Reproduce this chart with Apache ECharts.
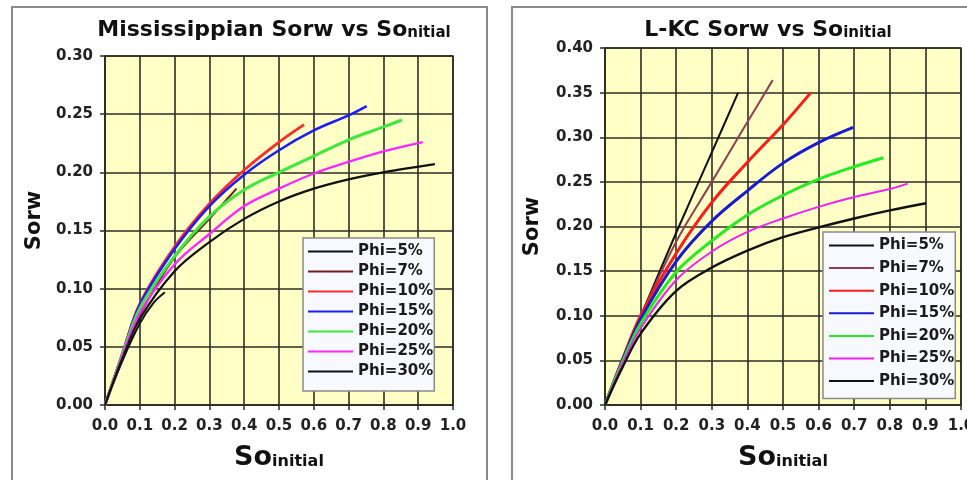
<!DOCTYPE html>
<html>
<head>
<meta charset="utf-8">
<script src="https://cdn.jsdelivr.net/npm/echarts@6/dist/echarts.min.js"></script>
<style>html,body{margin:0;padding:0;background:#fff}#c{width:967px;height:480px}</style>
</head>
<body>
<div id="c"></div>
<script>
// ---- Data (So_initial, Sorw) ----
const phiNames = ['Phi=5%', 'Phi=7%', 'Phi=10%', 'Phi=15%', 'Phi=20%', 'Phi=25%', 'Phi=30%'];
const xTicks = [0, 0.1, 0.2, 0.3, 0.4, 0.5, 0.6, 0.7, 0.8, 0.9, 1.0];
const missYTicks = [0, 0.05, 0.10, 0.15, 0.20, 0.25, 0.30];
const lkcYTicks = [0, 0.05, 0.10, 0.15, 0.20, 0.25, 0.30, 0.35, 0.40];

// Mississippian
const miss5  = [[0,0],[0.05,0.038],[0.1,0.07],[0.14,0.088],[0.172,0.097]];
const miss7  = [[0,0],[0.05,0.04],[0.1,0.077],[0.2,0.127],[0.3,0.16],[0.378,0.186]];
const miss10 = [[0,0],[0.05,0.044],[0.1,0.087],[0.2,0.136],[0.3,0.173],[0.4,0.202],[0.5,0.226],[0.572,0.241]];
const miss15 = [[0,0],[0.05,0.044],[0.1,0.086],[0.2,0.134],[0.3,0.171],[0.4,0.198],[0.5,0.219],[0.6,0.236],[0.7,0.249],[0.752,0.257]];
const miss20 = [[0,0],[0.05,0.043],[0.1,0.083],[0.2,0.128],[0.3,0.162],[0.4,0.185],[0.5,0.2],[0.6,0.214],[0.7,0.228],[0.8,0.239],[0.853,0.245]];
const miss25 = [[0,0],[0.05,0.042],[0.1,0.079],[0.2,0.121],[0.3,0.147],[0.4,0.171],[0.5,0.186],[0.6,0.199],[0.7,0.209],[0.8,0.218],[0.913,0.226]];
const miss30 = [[0,0],[0.05,0.04],[0.1,0.074],[0.2,0.115],[0.3,0.14],[0.4,0.16],[0.5,0.175],[0.6,0.186],[0.7,0.194],[0.8,0.2],[0.948,0.207]];

// L-KC
const lkc5  = [[0,0],[0.05,0.05],[0.1,0.099],[0.2,0.193],[0.3,0.283],[0.374,0.35]];
const lkc7  = [[0,0],[0.05,0.05],[0.1,0.099],[0.2,0.183],[0.3,0.25],[0.4,0.317],[0.471,0.364]];
const lkc10 = [[0,0],[0.05,0.052],[0.1,0.1],[0.2,0.17],[0.3,0.227],[0.4,0.272],[0.5,0.314],[0.578,0.35]];
const lkc15 = [[0,0],[0.05,0.051],[0.1,0.096],[0.2,0.161],[0.3,0.206],[0.4,0.24],[0.5,0.271],[0.6,0.294],[0.697,0.311]];
const lkc20 = [[0,0],[0.05,0.049],[0.1,0.091],[0.2,0.149],[0.3,0.184],[0.4,0.213],[0.5,0.235],[0.6,0.253],[0.7,0.267],[0.782,0.277]];
const lkc25 = [[0,0],[0.05,0.047],[0.1,0.086],[0.2,0.14],[0.3,0.172],[0.4,0.194],[0.5,0.209],[0.6,0.222],[0.7,0.233],[0.8,0.242],[0.85,0.248]];
const lkc30 = [[0,0],[0.05,0.043],[0.1,0.08],[0.2,0.128],[0.3,0.154],[0.4,0.173],[0.5,0.188],[0.6,0.199],[0.7,0.209],[0.8,0.218],[0.902,0.226]];

const missData = [miss5, miss7, miss10, miss15, miss20, miss25, miss30];
const lkcData = [lkc5, lkc7, lkc10, lkc15, lkc20, lkc25, lkc30];

// ---- Styles ----
const FONT = 'DejaVu Sans';
const missColors = ['#111111', '#6e1c24', '#ff2b2b', '#1c1cff', '#3ee83e', '#ff26ff', '#111111'];
const missWidths = [2, 2, 2.8, 2.6, 3, 2.4, 2.2];
const lkcColors = ['#111111', '#8e4050', '#ff1a1a', '#1a1ad0', '#22ec22', '#ee22ee', '#111111'];
const lkcWidths = [2, 2, 3, 3, 3, 2, 2.4];
const gridLine = '#2d2d22';

function xAxisCfg(gi) {
  return {
    type: 'value', gridIndex: gi, min: 0, max: 1, interval: 0.1,
    axisLine: {show: true, lineStyle: {color: gridLine, width: 1.5}},
    axisTick: {show: true, length: 5, lineStyle: {color: gridLine, width: 1.5}},
    splitLine: {show: true, lineStyle: {color: gridLine, width: 1.6}},
    axisLabel: {margin: 14, fontFamily: FONT, fontWeight: 'bold', fontSize: 15, color: '#222',
      formatter: v => v.toFixed(1)},
    name: '{a|So}{b|initial}', nameLocation: 'middle', nameGap: 39,
    nameTextStyle: {rich: {
      a: {fontFamily: FONT, fontWeight: 'bold', fontSize: 27, color: '#111', verticalAlign: 'bottom'},
      b: {fontFamily: FONT, fontWeight: 'bold', fontSize: 16, color: '#111', verticalAlign: 'bottom', padding: [0,0,1,0]}
    }}
  };
}
function yAxisCfg(gi, max, gap, shift) {
  return {
    type: 'value', gridIndex: gi, min: 0, max: max, interval: 0.05,
    axisLine: {show: true, lineStyle: {color: gridLine, width: 1.5}},
    axisTick: {show: true, length: 5, lineStyle: {color: gridLine, width: 1.5}},
    splitLine: {show: true, lineStyle: {color: gridLine, width: 1.6}},
    axisLabel: {margin: 12, fontFamily: FONT, fontWeight: 'bold', fontSize: 15, color: '#222',
      formatter: v => v.toFixed(2)},
    name: 'Sorw', nameLocation: 'middle', nameGap: gap,
    nameTextStyle: {fontFamily: FONT, fontWeight: 'bold', fontSize: 21, color: '#111', padding: [0, 0, 0, shift]}
  };
}

const series = [];
phiNames.forEach((n, i) => {
  series.push({
    name: 'M ' + n, type: 'line', xAxisIndex: 0, yAxisIndex: 0, data: missData[i],
    smooth: 0.35, symbol: 'none', animation: false,
    lineStyle: {color: missColors[i], width: missWidths[i]}, itemStyle: {color: missColors[i]}
  });
});
phiNames.forEach((n, i) => {
  series.push({
    name: 'L ' + n, type: 'line', xAxisIndex: 1, yAxisIndex: 1, data: lkcData[i],
    smooth: 0.35, symbol: 'none', animation: false,
    lineStyle: {color: lkcColors[i], width: lkcWidths[i]}, itemStyle: {color: lkcColors[i]}
  });
});

const legendText = {fontFamily: FONT, fontWeight: 'bold', fontSize: 15, color: '#1a1a1a'};
const hiddenSymbol = {opacity: 0, color: 'rgba(0,0,0,0)', borderWidth: 0};

const option = {
  backgroundColor: '#ffffff',
  animation: false,
  grid: [
    {left: 105, right: 514, top: 56, bottom: 75, show: true, backgroundColor: '#FFFFC6', borderColor: gridLine, borderWidth: 1.5, outerBoundsMode: 'none', containLabel: false},
    {left: 605, right: 6, top: 48, bottom: 75, show: true, backgroundColor: '#FFFFC6', borderColor: gridLine, borderWidth: 1.5, outerBoundsMode: 'none', containLabel: false}
  ],
  xAxis: [xAxisCfg(0), xAxisCfg(1)],
  yAxis: [yAxisCfg(0, 0.30, 60, 20), yAxisCfg(1, 0.40, 62, 0)],
  legend: [
    {
      data: phiNames.map(n => 'M ' + n), formatter: n => n.slice(2),
      orient: 'vertical', left: 303, top: 238, itemWidth: 45, itemHeight: 14, itemGap: 5,
      padding: [6, 1, 12, 4], backgroundColor: '#f8f8ff', borderColor: '#8a8a8a', borderWidth: 1.5,
      textStyle: legendText, selectedMode: false, itemStyle: hiddenSymbol
    },
    {
      data: phiNames.map(n => 'L ' + n), formatter: n => n.slice(2),
      orient: 'vertical', left: 823, top: 232, itemWidth: 45, itemHeight: 14, itemGap: 7.6,
      padding: [6, 1, 10, 5], backgroundColor: '#f8f8ff', borderColor: '#8a8a8a', borderWidth: 1.5,
      textStyle: legendText, selectedMode: false, itemStyle: hiddenSymbol
    }
  ],
  graphic: [
    {type: 'rect', z: -10, shape: {x: 12, y: 7, width: 475, height: 495}, style: {fill: 'none', stroke: '#8a8a8a', lineWidth: 2}},
    {type: 'rect', z: -10, shape: {x: 512, y: 7, width: 480, height: 495}, style: {fill: 'none', stroke: '#8a8a8a', lineWidth: 2}},
    {type: 'text', x: 274, y: 30, style: {
      text: '{a|Mississippian Sorw vs So}{b|nitial}', align: 'center', verticalAlign: 'middle',
      rich: {
        a: {fontFamily: FONT, fontWeight: 'bold', fontSize: 22, fill: '#111', verticalAlign: 'bottom'},
        b: {fontFamily: FONT, fontWeight: 'bold', fontSize: 15, fill: '#111', verticalAlign: 'bottom'}
      }}},
    {type: 'text', x: 768, y: 30, style: {
      text: '{a|L-KC Sorw vs So}{b|initial}', align: 'center', verticalAlign: 'middle',
      rich: {
        a: {fontFamily: FONT, fontWeight: 'bold', fontSize: 22, fill: '#111', verticalAlign: 'bottom'},
        b: {fontFamily: FONT, fontWeight: 'bold', fontSize: 15, fill: '#111', verticalAlign: 'bottom'}
      }}}
  ],
  series: series
};

const chart = echarts.init(document.getElementById('c'), null, {renderer: 'canvas'});
chart.setOption(option);
</script>
</body>
</html>
